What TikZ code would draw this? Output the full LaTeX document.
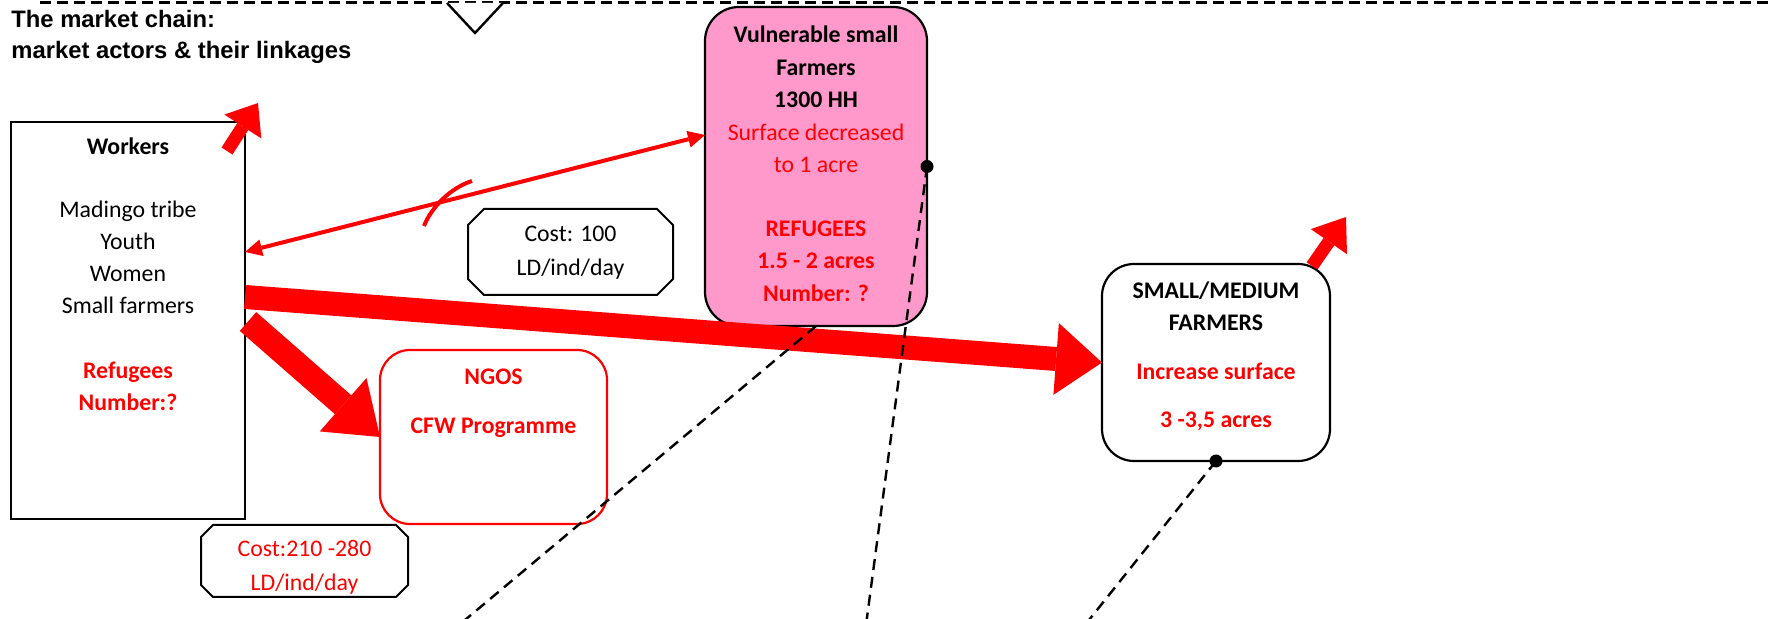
\documentclass[tikz,border=0pt]{standalone}
\usepackage{fontspec}
\setmainfont{Carlito}
\newfontfamily\arialf{Liberation Sans}
\usetikzlibrary{arrows.meta,calc}
\definecolor{pinkfill}{RGB}{255,153,204}
\definecolor{tred}{RGB}{255,0,0}
\begin{document}
\begin{tikzpicture}[x=0.5pt,y=-0.5pt,
  box/.style={draw=black, line width=1.1pt, inner sep=0pt, outer sep=0pt},
  rbox/.style={box, rounded corners=16pt},
  plain/.style={inner sep=0pt, outer sep=0pt},
  cham/.style={draw=black, line width=1pt, line join=miter},
  txt/.style={font=\fontsize{11.9}{14}\selectfont, inner sep=0pt, anchor=mid, yshift=-2pt},
  ttl/.style={font=\arialf\bfseries\fontsize{11.9}{14}\selectfont, inner sep=0pt, anchor=mid west},
  redarrow/.style={draw=tred, fill=tred},
  dashline/.style={draw=black, line width=1.2pt, dash pattern=on 5.5pt off 3.5pt},
  dotn/.style={circle, fill=black, minimum size=6.5pt, inner sep=0pt}
]
\useasboundingbox (0,0) rectangle (1772,619);

% top dashed line and triangle
\coordinate (tl) at (40,3);
\coordinate (tr) at (1768,3);
\draw[line width=1.5pt, dash pattern=on 5.5pt off 3pt] (tl) -- (tr);
\coordinate (t1) at (447,3);
\coordinate (t2) at (475,33);
\coordinate (t3) at (503,3);
\fill[white] (t1) -- (t2) -- (t3) -- cycle;
\draw[line width=1.2pt, line join=miter] (t1) -- (t2) -- (t3);

% title
\node[ttl] (title1) at (11,22.5) {The market chain:};
\node[ttl] (title2) at (11,53.5) {market actors \& their linkages};

% boxes
\node[box, minimum width=117pt, minimum height=198.5pt] (workers) at (128,320.5) {};
\node[rbox, rounded corners=17pt, fill=pinkfill, minimum width=111pt, minimum height=159.5pt] (vuln) at (816,166.5) {};
\node[rbox, draw=tred, rounded corners=15pt, minimum width=113.5pt, minimum height=87pt] (ngo) at (493.5,437) {};
\node[rbox, fill=white, minimum width=114pt, minimum height=98.5pt] (smf) at (1216,362.5) {};
\node[plain, minimum width=102.5pt, minimum height=43pt] (cost1) at (570.5,252) {};
\node[plain, minimum width=103.5pt, minimum height=36pt] (cost2) at (304.5,561) {};
\draw[cham] ([xshift=8pt]cost1.north west) -- ([xshift=-8pt]cost1.north east) -- ([yshift=-8pt]cost1.north east) -- ([yshift=8pt]cost1.south east) -- ([xshift=-8pt]cost1.south east) -- ([xshift=8pt]cost1.south west) -- ([yshift=8pt]cost1.south west) -- ([yshift=-8pt]cost1.north west) -- cycle;
\draw[cham] ([xshift=6pt]cost2.north west) -- ([xshift=-6pt]cost2.north east) -- ([yshift=-6pt]cost2.north east) -- ([yshift=6pt]cost2.south east) -- ([xshift=-6pt]cost2.south east) -- ([xshift=6pt]cost2.south west) -- ([yshift=6pt]cost2.south west) -- ([yshift=-6pt]cost2.north west) -- cycle;

% texts
\node[txt] (wt1) at (128,146) {\bfseries Workers};
\node[txt] (wt2) at (128,209) {Madingo tribe};
\node[txt] (wt3) at (128,241) {Youth};
\node[txt] (wt4) at (128,273) {Women};
\node[txt] (wt5) at (128,305) {Small farmers};
\node[txt, text=tred] (wt6) at (128,370) {\bfseries Refugees};
\node[txt, text=tred] (wt7) at (128,402) {\bfseries Number:?};

\node[txt] (vt1) at (816,34) {\bfseries Vulnerable small};
\node[txt] (vt2) at (816,67) {\bfseries Farmers};
\node[txt] (vt3) at (816,99) {\bfseries 1300 HH};
\node[txt, text=tred] (vt4) at (816,132) {Surface decreased};
\node[txt, text=tred] (vt5) at (816,164) {to 1 acre};
\node[txt, text=tred] (vt6) at (816,228) {\bfseries REFUGEES};
\node[txt, text=tred] (vt7) at (816,260) {\bfseries 1.5 - 2 acres};
\node[txt, text=tred] (vt8) at (816,293) {\bfseries Number: ?};

\node[txt, text=tred] (nt1) at (493.5,376) {\bfseries NGOS};
\node[txt, text=tred] (nt2) at (493.5,425) {\bfseries CFW Programme};

\node[txt] (st1) at (1216,290) {\bfseries SMALL/MEDIUM};
\node[txt] (st2) at (1216,322) {\bfseries FARMERS};
\node[txt, text=tred] (st3) at (1216,371) {\bfseries Increase surface};
\node[txt, text=tred] (st4) at (1216,419) {\bfseries 3 -3,5 acres};

\node[txt] (ct1) at (570.5,233) {Cost: 100};
\node[txt] (ct2) at (570.5,267) {LD/ind/day};
\node[txt, text=tred] (ct3) at (304.5,548) {Cost:210 -280};
\node[txt, text=tred] (ct4) at (304.5,582) {LD/ind/day};

% red arrows
\coordinate (a1) at (258,103);
\coordinate (a2) at (1346,217);
\draw[redarrow, line width=6.5pt, -{Triangle[length=14pt,width=22pt,line width=0pt]}] ([shift={(-18,29)}]workers.north east) -- (a1);
\draw[redarrow, line width=6.5pt, -{Triangle[length=15pt,width=22pt,line width=0pt]}] ([shift={(-18,2)}]smf.north east) -- (a2);
\draw[redarrow, line width=2pt, {Triangle[length=8.5pt,width=8.5pt,line width=0pt]}-{Triangle[length=8.5pt,width=8.5pt,line width=0pt]}] ([shift={(0,-68.5)}]workers.east) -- ([shift={(0,-31.5)}]vuln.west);
\coordinate (m1) at (424,226);
\coordinate (m2) at (472,181);
\draw[tred, line width=2pt] (m1) .. controls (431,208) and (450,188) .. (m2);
\draw[redarrow, line width=12pt, -{Triangle[length=23pt,width=36pt,line width=0pt]}] ([shift={(0,-23.5)}]workers.east) -- (smf.west);
\draw[redarrow, line width=12.5pt, -{Triangle[length=24.5pt,width=35.5pt,line width=0pt]}] ([shift={(3,1)}]workers.east) -- (ngo.west);

% dashed lines and dots
\coordinate (e1) at (866,625);
\coordinate (e2) at (459,625);
\coordinate (e3) at (1085,625);
\draw[dashline] (vuln.east) -- (e1);
\draw[dashline] (vuln.south) -- (e2);
\draw[dashline] (smf.south) -- (e3);
\node[dotn] (d1) at (vuln.east) {};
\node[dotn] (d2) at (smf.south) {};
\end{tikzpicture}
\end{document}
